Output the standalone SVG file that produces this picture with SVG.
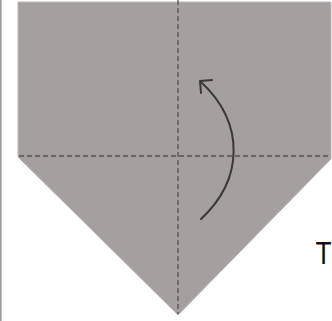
<svg xmlns="http://www.w3.org/2000/svg" width="332" height="321" viewBox="0 0 332 321">
  <style>
    .fold { stroke: #555252; stroke-width: 1.3; stroke-dasharray: 5 3; fill: none; }
    .arrow { stroke: #3a3838; stroke-width: 2; fill: none; stroke-linecap: round; stroke-linejoin: round; }
    .label { font-family: "Liberation Sans", Arial, sans-serif; font-size: 31px; fill: #111; }
  </style>
  <rect width="332" height="321" fill="#ffffff"/>
  <line x1="0.8" y1="0" x2="0.8" y2="321" stroke="#9a9a9a" stroke-width="1.6"/>
  <g id="paper">
    <polygon points="18,2 331,2 331,159 178,315 18,157" fill="#a5a0a0" stroke="#bcb8b8" stroke-width="1"/>
  </g>
  <g id="connectors">
    <line class="fold" x1="178" y1="0" x2="178" y2="314"/>
    <line class="fold" x1="19" y1="156" x2="331" y2="156"/>
    <path class="arrow" d="M201,219 C243,180 246,124 201,82"/>
    <path class="arrow" d="M212,80 L200,81 L201,93"/>
  </g>
  <g id="label">
    <text class="label" transform="translate(315.5,264) scale(0.85,1)">T</text>
  </g>
</svg>
